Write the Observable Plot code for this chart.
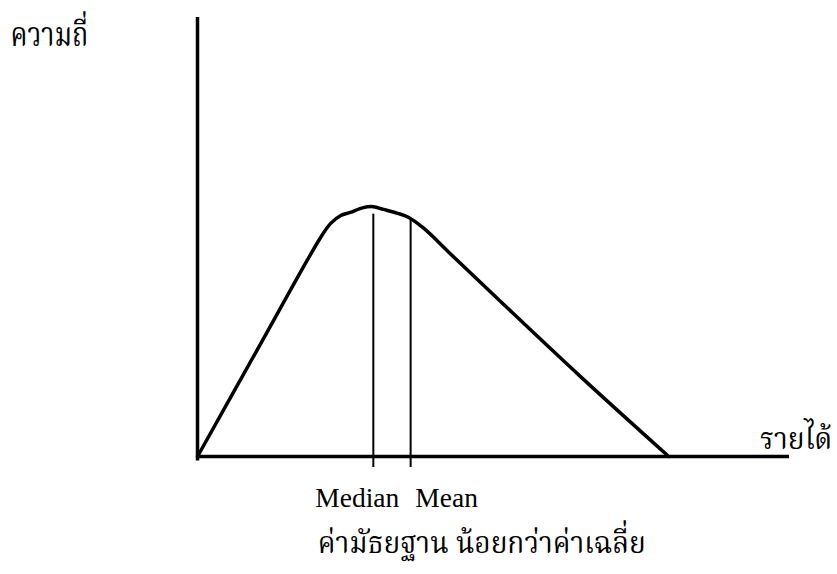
<!DOCTYPE html>
<html><head><meta charset="utf-8">
<script src="https://cdn.jsdelivr.net/npm/d3@7"></script>
<script src="https://cdn.jsdelivr.net/npm/@observablehq/plot@0.6"></script>
<style>body{margin:0;background:#fff}</style>
</head><body><div id="chart"></div>
<script>
// Curve (arbitrary units 0-100)
const income = [0, 10.3, 20.8, 22.5, 24.2, 25.8, 28.0, 29.7, 31.4, 33.8, 35.6, 38.2, 42.7, 51.2, 64.7, 79.6];
const frequency = [0, 24.8, 49.9, 53.1, 54.9, 55.6, 56.7, 56.9, 56.3, 55.4, 54.5, 52.0, 46.2, 35.3, 18.2, 0];
// Median and mean markers
const measureNames = ["Median", "Mean"];
const measureIncome = [29.7, 36.0];
const measureTop = [55.2, 53.8];
const measureLabelX = [19.9, 36.8];
// Texts
const yAxisLabel = "ความถี่";
const xAxisLabel = "รายได้";
const captionText = "ค่ามัธยฐาน น้อยกว่าค่าเฉลี่ย";

const curve = income.map((x, i) => ({x, y: frequency[i]}));
const measures = measureNames.map((name, i) => ({name, x: measureIncome[i], top: measureTop[i], lx: measureLabelX[i]}));
const thaiFont = "'Noto Serif Thai', 'Noto Sans Thai', Garuda, Loma, 'Tlwg Typo', 'DejaVu Sans', sans-serif";
const serifFont = "'Liberation Serif', 'Times New Roman', serif";

const chart = Plot.plot({
  width: 837,
  height: 574,
  marginLeft: 197,
  marginRight: 48,
  marginTop: 17,
  marginBottom: 118,
  x: {domain: [0, 100], axis: null},
  y: {domain: [0, 100], axis: null},
  style: {background: "#fff", overflow: "visible"},
  marks: [
    Plot.ruleX([0], {y1: -1, y2: 100, stroke: "#000", strokeWidth: 3.5}),
    Plot.ruleY([0], {x1: 0, x2: 100, stroke: "#000", strokeWidth: 3.5}),
    Plot.line(curve, {x: "x", y: "y", stroke: "#000", strokeWidth: 3.5, curve: "catmull-rom", strokeLinejoin: "round"}),
    Plot.ruleX(measures, {x: "x", y1: -2.5, y2: "top", stroke: "#000", strokeWidth: 2}),
    Plot.text(measures, {x: "lx", y: -11.4, text: "name", textAnchor: "start", lineAnchor: "bottom", fontFamily: serifFont, fontSize: 27.5, fill: "#000"}),
    Plot.text([yAxisLabel], {x: -31.6, y: 93.6, text: d => d, textAnchor: "start", lineAnchor: "bottom", fontFamily: thaiFont, fontSize: 33, fill: "#000", className: "lbl-y"}),
    Plot.text([xAxisLabel], {x: 107.2, y: 1.8, text: d => d, textAnchor: "end", lineAnchor: "bottom", fontFamily: thaiFont, fontSize: 30, fill: "#000", className: "lbl-x"}),
    Plot.text([captionText], {x: 20.3, y: -21.9, text: d => d, textAnchor: "start", lineAnchor: "bottom", fontFamily: thaiFont, fontSize: 31, fill: "#000", className: "lbl-caption"})
  ]
});
document.getElementById("chart").appendChild(chart);
const svg = d3.select(chart);
const fit = (sel, widths) => svg.selectAll(sel + " text").each(function(_, i) {
  d3.select(this).attr("textLength", widths[i]).attr("lengthAdjust", "spacingAndGlyphs");
});
fit(".lbl-y", [78]);
fit(".lbl-x", [72]);
fit(".lbl-caption", [328]);
</script>
</body></html>
